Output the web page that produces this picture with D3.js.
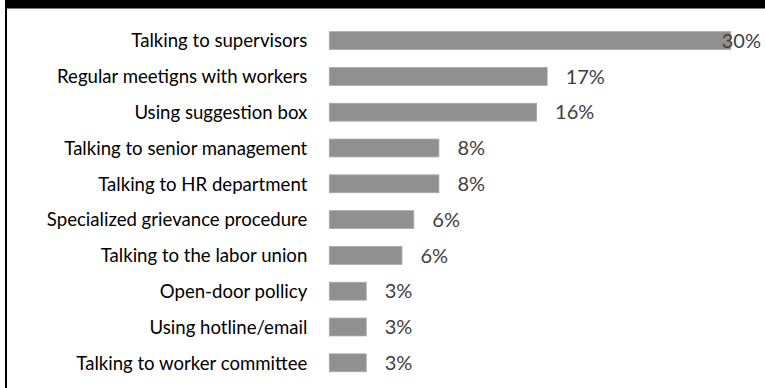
<!DOCTYPE html>
<html>
<head>
<meta charset="utf-8">
<script src="https://cdn.jsdelivr.net/npm/d3@7"></script>
<style>
  html, body { margin: 0; padding: 0; background: #fff; }
  svg { display: block; }
</style>
</head>
<body>
<div id="chart"></div>
<script>
// categories, top to bottom
const categories = [
	'Talking to supervisors',
	'Regular meetigns with workers',
	'Using suggestion box',
	'Talking to senior management',
	'Talking to HR department',
	'Specialized grievance procedure',
	'Talking to the labor union',
	'Open-door pollicy',
	'Using hotline/email',
	'Talking to worker committee'
];

// share of respondents (%)
const values = [30.4, 16.5, 15.7, 8.3, 8.3, 6.4, 5.5, 2.8, 2.8, 2.8];

// data labels as printed on the chart
const valueLabels = ['30%', '17%', '16%', '8%', '8%', '6%', '6%', '3%', '3%', '3%'];

const width = 765;
const height = 388;
const plotLeft = 329.3;
const plotRight = 730.7;
const labelFont = 'Lato, "Open Sans", sans-serif';

const svg = d3.select('#chart')
	.append('svg')
	.attr('width', width)
	.attr('height', height);

// frame: thick band on top, thin rule on the left
svg.append('rect')
	.attr('x', 5).attr('y', 0)
	.attr('width', width - 5).attr('height', 8.5)
	.attr('fill', '#000');
svg.append('rect')
	.attr('x', 5).attr('y', 0)
	.attr('width', 2).attr('height', height)
	.attr('fill', '#000');

const x = d3.scaleLinear()
	.domain([0, d3.max(values)])
	.range([plotLeft, plotRight]);

const y = d3.scaleBand()
	.domain(categories)
	.range([22.7, 380.7])
	.paddingInner(0.5)
	.paddingOuter(0.25);

const rows = categories.map((c, i) => ({ cat: c, value: values[i], label: valueLabels[i] }));

// bars
svg.append('g')
	.selectAll('rect')
	.data(rows)
	.join('rect')
	.attr('x', x(0))
	.attr('y', d => y(d.cat))
	.attr('width', d => x(d.value) - x(0))
	.attr('height', y.bandwidth())
	.attr('fill', '#909090')
	.attr('stroke', '#a8a8a8')
	.attr('stroke-width', 0.8);

// category axis, no line or ticks
const yAxis = svg.append('g')
	.attr('transform', `translate(${x(0) - 22},0)`)
	.call(d3.axisLeft(y).tickSize(0).tickPadding(0));
yAxis.select('.domain').remove();
yAxis.selectAll('text')
	.attr('font-family', labelFont)
	.attr('font-size', 18.6)
	.attr('fill', '#000')
	.attr('dy', '0.36em');

// value labels, kept inside the plot at the right edge
svg.append('g')
	.selectAll('text')
	.data(rows)
	.join('text')
	.attr('font-family', labelFont)
	.attr('font-size', 20)
	.attr('fill', '#404040')
	.attr('y', d => y(d.cat) + y.bandwidth() / 2)
	.attr('dy', '0.36em')
	.text(d => d.label)
	.attr('x', function(d) {
		const w = this.getComputedTextLength();
		return Math.min(x(d.value) + 18.5, 761 - w);
	});
</script>
</body>
</html>
